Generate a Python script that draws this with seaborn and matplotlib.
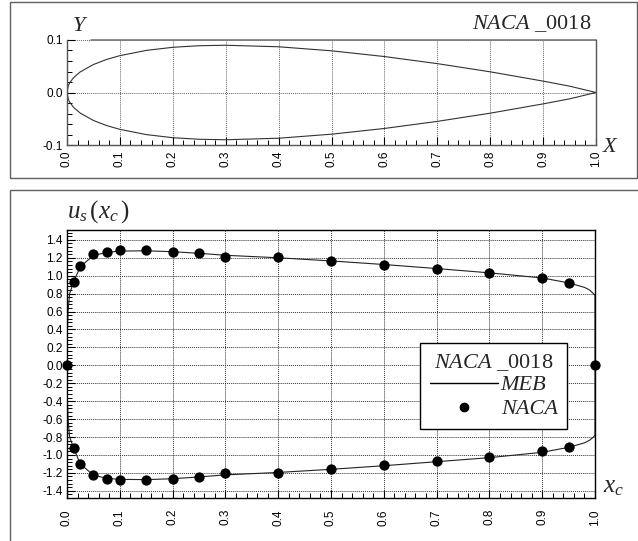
import numpy as np
import pandas as pd
import matplotlib
matplotlib.use("Agg")
import matplotlib.pyplot as plt
from matplotlib.lines import Line2D
from matplotlib.patches import Rectangle
from matplotlib.ticker import MultipleLocator
import seaborn as sns

# ---------------- data ----------------
# NACA 0018 profile
prof_x = [0.0, 0.0025, 0.005, 0.0125, 0.025, 0.05, 0.075, 0.1, 0.15, 0.2, 0.25,
          0.3, 0.4, 0.5, 0.6, 0.7, 0.8, 0.9, 0.95, 1.0]
prof_upper = [0.0, 0.0131, 0.0183, 0.0284, 0.0392, 0.0533, 0.0630, 0.0702, 0.0802,
              0.0861, 0.0891, 0.0900, 0.0871, 0.0794, 0.0685, 0.0550, 0.0394,
              0.0217, 0.0121, 0.0]
prof_lower = [0.0, -0.0131, -0.0183, -0.0284, -0.0392, -0.0533, -0.0630, -0.0702,
              -0.0802, -0.0861, -0.0891, -0.0900, -0.0871, -0.0794, -0.0685,
              -0.0550, -0.0394, -0.0217, -0.0121, 0.0]

# MEB surface velocity (line)
meb_x = [0.0, 0.0005, 0.002, 0.005, 0.0125, 0.025, 0.05, 0.075, 0.1, 0.15, 0.2,
         0.25, 0.3, 0.4, 0.5, 0.6, 0.7, 0.8, 0.9, 0.95, 0.98, 0.99, 0.997, 1.0]
meb_upper = [0.0, 0.35, 0.6, 0.8, 0.93, 1.1, 1.225, 1.26, 1.275, 1.278, 1.268,
             1.25, 1.228, 1.2, 1.165, 1.125, 1.08, 1.032, 0.975, 0.92, 0.87,
             0.84, 0.8, 0.78]
meb_lower = [0.0, -0.35, -0.6, -0.8, -0.92, -1.1, -1.225, -1.26, -1.272, -1.275,
             -1.265, -1.245, -1.222, -1.195, -1.16, -1.12, -1.075, -1.03, -0.97,
             -0.915, -0.865, -0.835, -0.8, -0.78]

# NACA reference points
naca_x = [0.0, 0.0125, 0.025, 0.05, 0.075, 0.1, 0.15, 0.2, 0.25, 0.3, 0.4, 0.5,
          0.6, 0.7, 0.8, 0.9, 0.95, 1.0]
naca_upper = [0.0, 0.93, 1.11, 1.24, 1.27, 1.285, 1.285, 1.27, 1.255, 1.214,
              1.214, 1.169, 1.124, 1.08, 1.031, 0.975, 0.92, 0.0]
naca_lower_x = [0.0125, 0.025, 0.05, 0.075, 0.1, 0.15, 0.2, 0.25, 0.3, 0.4, 0.5,
                0.6, 0.7, 0.8, 0.9, 0.95]
naca_lower = [-0.924, -1.099, -1.226, -1.263, -1.274, -1.274, -1.263, -1.248,
              -1.2, -1.2, -1.155, -1.114, -1.069, -1.028, -0.958, -0.916]

x_ticks = [0.0, 0.1, 0.2, 0.3, 0.4, 0.5, 0.6, 0.7, 0.8, 0.9, 1.0]
y_ticks_top = [-0.1, 0.0, 0.1]
y_ticks_bot = [-1.4, -1.2, -1.0, -0.8, -0.6, -0.4, -0.2, 0.0, 0.2, 0.4, 0.6, 0.8,
               1.0, 1.2, 1.4]

# ---------------- style ----------------
sns.set_theme(style="white")
plt.rcParams.update({
    "font.family": ["Liberation Sans", "DejaVu Sans"],
    "axes.unicode_minus": False,
    "mathtext.fontset": "custom",
    "mathtext.rm": "Liberation Serif",
    "mathtext.it": "Liberation Serif:italic",
    "mathtext.bf": "Liberation Serif:bold",
})

W, H = 638, 541
fig = plt.figure(figsize=(W / 100, H / 100), dpi=100)


def fx(px):
    return px / W


def fy(py):
    return 1 - py / H


# panel frames
frame_col = "#606060"
fig.patches.append(Rectangle((fx(10), fy(178)), fx(637) - fx(10), fy(2) - fy(178),
                             transform=fig.transFigure, fill=False,
                             edgecolor=frame_col, lw=1.0))
fig.patches.append(Rectangle((fx(10), fy(545)), fx(645) - fx(10), fy(190) - fy(545),
                             transform=fig.transFigure, fill=False,
                             edgecolor=frame_col, lw=1.0, clip_on=False))

serif = ["Liberation Serif", "DejaVu Serif"]


def style_axes(ax, ymin, ymax, yticks, yminor, ylabels, spine_col, grid_col):
    ax.set_xlim(0, 1)
    ax.set_ylim(ymin, ymax)
    ax.set_xticks(x_ticks)
    ax.set_xticklabels([f"{v:.1f}" for v in x_ticks], rotation=90)
    ax.set_yticks(yticks)
    ax.set_yticklabels(ylabels)
    ax.xaxis.set_minor_locator(MultipleLocator(0.02))
    ax.yaxis.set_minor_locator(MultipleLocator(yminor))
    ax.tick_params(which="both", direction="in", bottom=True, left=True,
                   top=False, right=False, colors="black", labelsize=8.5,
                   pad=3)
    ax.tick_params(which="major", length=6, width=0.8)
    ax.tick_params(which="minor", length=3.5, width=0.7)
    ax.grid(True, which="major", ls=(0, (1.0, 1.0)), color=grid_col, lw=0.7)
    for s in ax.spines.values():
        s.set_color(spine_col)
        s.set_linewidth(1.0)
    ax.set_xlabel("")
    ax.set_ylabel("")


# ---------------- top panel ----------------
ax1 = fig.add_axes([fx(67), fy(145), fx(596) - fx(67), fy(40) - fy(145)])
prof_df = pd.DataFrame({
    "x": prof_x + prof_x[::-1],
    "y": prof_upper + prof_lower[::-1],
})
sns.lineplot(data=prof_df, x="x", y="y", sort=False, estimator=None,
             color="#333333", lw=0.8, ax=ax1)
style_axes(ax1, -0.1, 0.1, y_ticks_top, 0.02,
           [f"{v:.1f}" for v in y_ticks_top], "#555555", "#666666")
ax1.spines["top"].set_visible(False)
ax1.plot([0.045, 1.0], [1.0, 1.0], transform=ax1.transAxes, color="#777777",
         lw=1.2, clip_on=False)
ax1.tick_params(axis="x", pad=4)
fig.text(fx(73), fy(31), "Y", family=serif, style="italic", fontsize=16,
         ha="left", va="baseline")
fig.text(fx(603), fy(152), "X", family=serif, style="italic", fontsize=16,
         ha="left", va="baseline")
fig.text(fx(591), fy(29), r"$\mathit{NACA}$ _0018", family=serif, fontsize=16,
         ha="right", va="baseline")

# ---------------- bottom panel ----------------
ax2 = fig.add_axes([fx(67), fy(498), fx(595) - fx(67), fy(230) - fy(498)])
meb_df = pd.DataFrame({
    "x": meb_x + meb_x[::-1],
    "u": meb_upper + meb_lower[::-1],
})
sns.lineplot(data=meb_df, x="x", y="u", sort=False, estimator=None,
             color="#222222", lw=0.8, ax=ax2)
pts_df = pd.DataFrame({
    "x": naca_x + naca_lower_x,
    "u": naca_upper + naca_lower,
})
sns.scatterplot(data=pts_df, x="x", y="u", color="black", s=55,
                edgecolor="black", linewidth=0, ax=ax2, zorder=5, clip_on=False)
style_axes(ax2, -1.48, 1.51, y_ticks_bot, 0.04,
           [f"{v:.1f}" for v in y_ticks_bot], "black", "#333333")
ax2.tick_params(axis="x", pad=8)

fig.text(fx(67), fy(218), r"$u_s\,(x_c\,)$", fontsize=18, ha="left",
         va="baseline")
fig.text(fx(603), fy(492), r"$x_c$", fontsize=18, ha="left", va="baseline")

handles = [Line2D([], [], color="black", lw=1.0),
           Line2D([], [], color="black", marker="o", ls="none", markersize=6)]
leg = ax2.legend(handles, ["MEB", "NACA"], loc="upper left",
                 bbox_to_anchor=(0.669, 0.577), frameon=True, fancybox=False,
                 title=r"$\mathit{NACA}$ _0018",
                 prop={"family": serif, "style": "italic", "size": 16},
                 title_fontproperties={"family": serif, "size": 16},
                 handlelength=3.1, handletextpad=0.1, borderpad=0.42,
                 labelspacing=0.15, borderaxespad=0, markerfirst=True)
leg.get_frame().set_edgecolor("black")
leg.get_frame().set_linewidth(1.0)
leg.get_frame().set_alpha(1)
leg._legend_box.sep = 1

fig.savefig("out.png", dpi=100)
